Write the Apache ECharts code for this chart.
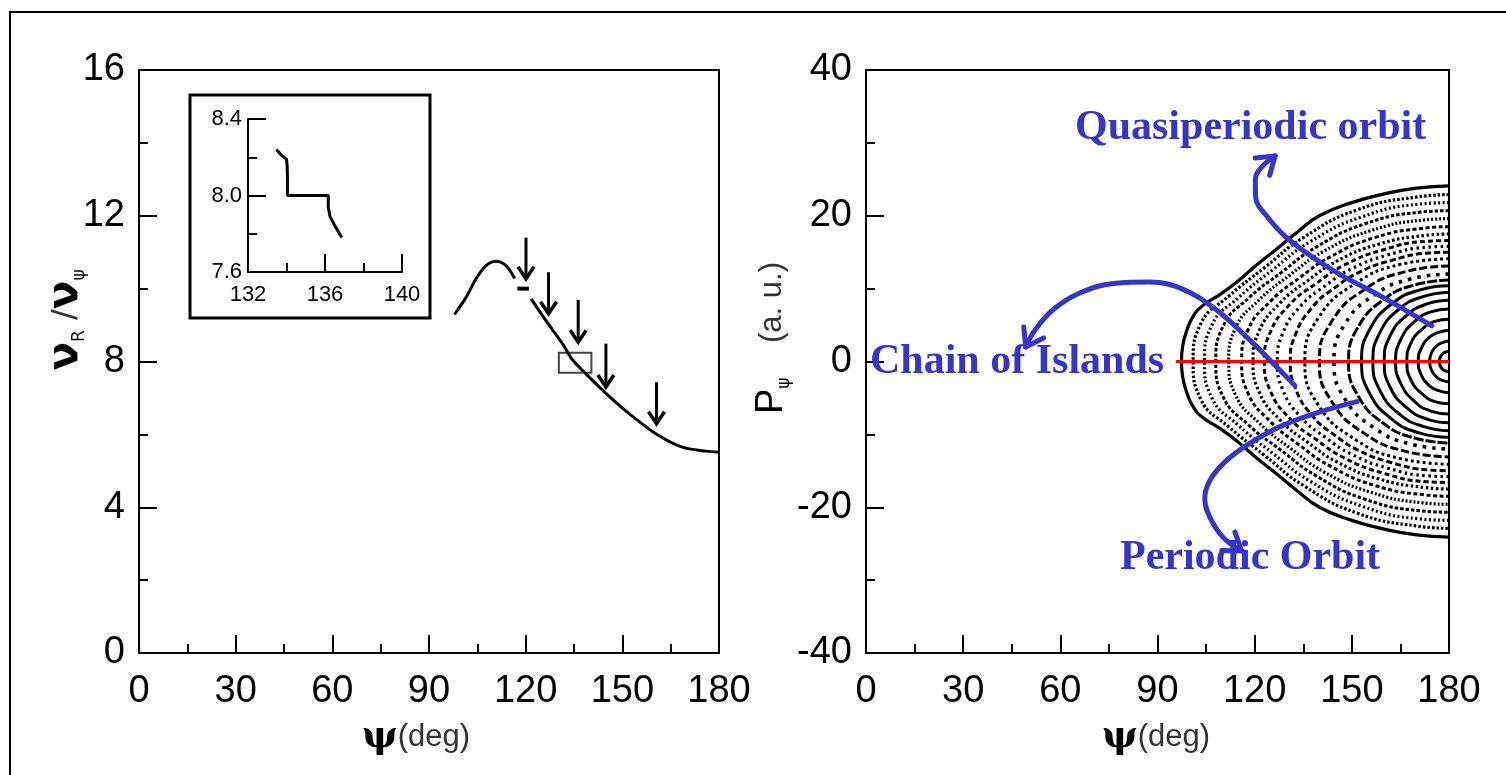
<!DOCTYPE html>
<html>
<head>
<meta charset="utf-8">
<script src="https://cdn.jsdelivr.net/npm/echarts@6/dist/echarts.min.js"></script>
<style>
  html, body { margin: 0; padding: 0; background: #fff; }
  #chart { width: 1506px; height: 775px; }
</style>
</head>
<body>
<div id="chart"></div>
<script>
// ---- left panel: frequency ratio vs psi ----
const ratioRise = [[97.9, 9.29], [101.5, 9.76], [104.6, 10.27], [107.7, 10.63], [110.8, 10.75], [113.9, 10.63], [116.6, 10.28]]
const ratioPlateau = [[117.4, 10.0], [121.0, 10.0]]
const ratioFall = [[121.7, 9.72], [126.3, 9.12], [131.5, 8.48], [134.5, 8.05], [138.7, 7.66], [145, 7.12], [152.1, 6.57], [160.4, 6.02], [168.6, 5.65], [175.9, 5.54], [180, 5.51]]
// resonance arrows: psi, start, tip
const arrowPsi = [120.1, 127.1, 136.3, 144.9, 160.6]
const arrowTop = [11.4, 10.45, 9.69, 8.49, 7.43]
const arrowTip = [10.27, 9.31, 8.53, 7.3, 6.29]
const zoomBox = [130.3, 7.69, 140.4, 8.24]
// inset
const insetPsi = [133.48, 133.74, 134.0, 134.03, 134.05, 134.05, 136.17, 136.17, 136.26, 136.52, 136.87]
const insetRatio = [8.24, 8.21, 8.19, 8.16, 8.1, 8.0, 8.0, 7.94, 7.89, 7.84, 7.78]

// ---- right panel: Poincare section, upper halves of the orbits (outer -> inner) ----
const orbits = [
  [[97.4, 0], [97.8, 2.2], [99, 4.2], [101, 6.2], [104, 7.7], [109, 9.1], [114.5, 10.9], [120.5, 13.2], [127, 15.5], [133, 17.7], [140, 20], [150, 21.8], [160, 23], [170, 23.8], [180, 24.1]],
  [[101, 0], [103.4, 5.2], [112.1, 9.0], [123.1, 12.9], [135.0, 17.0], [151.6, 20.8], [170.5, 22.6], [180, 22.9]],
  [[104.5, 0], [106.8, 5.0], [115.1, 8.8], [125.6, 12.6], [137.0, 16.4], [152.8, 19.8], [170.9, 21.6], [180, 21.8]],
  [[108, 0], [110.2, 4.8], [118.1, 8.7], [128.2, 12.2], [139.0, 15.7], [154.1, 18.9], [171.4, 20.5], [180, 20.7]],
  [[112, 0], [114.0, 4.5], [121.5, 8.5], [131.0, 11.9], [141.2, 15.1], [155.5, 17.9], [171.8, 19.4], [180, 19.6]],
  [[116, 0], [117.9, 4.3], [125.0, 8.3], [133.9, 11.5], [143.5, 14.4], [157.0, 17.0], [172.3, 18.3], [180, 18.5]],
  [[119.5, 0], [121.3, 4.1], [128.0, 8.1], [136.4, 11.1], [145.5, 13.8], [158.2, 16.1], [172.7, 17.3], [180, 17.5]],
  [[123, 0], [124.7, 3.9], [131.0, 7.9], [139.0, 10.7], [147.5, 13.2], [159.5, 15.3], [173.2, 16.5], [180, 16.6]],
  [[127, 0], [128.6, 3.8], [134.4, 7.7], [141.8, 10.4], [149.8, 12.7], [160.9, 14.6], [173.6, 15.7], [180, 15.8]],
  [[131, 0], [132.5, 3.6], [137.9, 7.5], [144.7, 10.1], [152.1, 12.2], [162.4, 13.9], [174.1, 14.9], [180, 15.0]],
  [[135.5, 0], [139.7, 6.0], [151.4, 10.8], [164.8, 13.3], [180, 14.1]],
  [[140, 0], [143.8, 5.5], [154.3, 10.0], [166.3, 12.3], [180, 13.1]],
  [[144.5, 0], [147.8, 5.1], [157.2, 9.2], [167.9, 11.3], [180, 12.0]],
  [[149, 0], [151.9, 4.7], [160.1, 8.6], [169.4, 10.5], [180, 11.2]],
  [[153, 0], [155.5, 4.4], [162.6, 8.0], [170.8, 9.8], [180, 10.4]],
  [[156.5, 0], [158.7, 4.0], [164.9, 7.3], [172.0, 8.9], [180, 9.5]],
  [[160, 0], [161.9, 3.6], [167.1, 6.4], [173.2, 7.9], [180, 8.4]],
  [[163.5, 0], [165.1, 3.0], [169.4, 5.5], [174.4, 6.8], [180, 7.2]],
  [[167, 0], [168.2, 2.5], [171.6, 4.4], [175.6, 5.5], [180, 5.8]],
  [[170.5, 0], [171.4, 1.8], [173.9, 3.3], [176.8, 4.0], [180, 4.3]],
  [[174, 0], [174.6, 1.2], [176.1, 2.1], [178, 2.6], [180, 2.8]],
  [[177, 0], [177.3, 0.6], [178.1, 1.1], [179, 1.3], [180, 1.4]]
]
const separatrix = [[95.7, 0], [180, 0]]
const quasiArrow = [[174.7, 4.9], [159.6, 8.8], [144.2, 12.5], [130.9, 16.6], [124.2, 19.7], [120.3, 22.6], [120.2, 25.0], [122.0, 26.6], [126.3, 28.2]]
const chainArrow = [[132.4, -3.3], [126.9, -0.8], [118.6, 2.9], [108.4, 7.0], [97.9, 9.9], [87.7, 10.9], [76.5, 10.7], [66.0, 9.4], [58.0, 7.2], [52.3, 4.4], [49.3, 2.0]]
const periodicArrow = [[151.6, -5.5], [140.2, -6.9], [128.5, -8.8], [118.6, -11.2], [111.0, -13.7], [106.2, -16.3], [104.6, -18.8], [106.3, -21.5], [110.4, -24.2], [116.0, -26.0]]

// dash pattern per orbit (outer -> inner), null = solid
const orbitDash = [null, [2.5, 2], [2, 2.5], [3.5, 2], [2, 2], [4, 2.5], [2.5, 2.5], [5, 3], [2.5, 3.5], [6, 3], [3, 3], [8, 3], [3.5, 6], [10, 2], null, null, null, null, null, null, null, null]
const orbitWidth = [3.2, 3.2, 3.2, 3, 3.2, 3, 3.2, 3, 3.2, 3, 3, 3, 3.6, 3, 3, 3, 3, 3, 3, 3, 3, 3]

const BLUE = '#3535c9'
const chart = echarts.init(document.getElementById('chart'))

function mainAxis(extra) {
  return Object.assign({
    type: 'value',
    axisLine: { show: true, onZero: false, lineStyle: { color: '#000', width: 2 } },
    axisTick: { show: true, inside: true, length: 18, lineStyle: { color: '#000', width: 2 } },
    minorTick: { show: true, splitNumber: 2, length: 9, lineStyle: { color: '#000', width: 2 } },
    splitLine: { show: false },
    minorSplitLine: { show: false },
    axisLabel: { color: '#000', fontSize: 38, fontFamily: 'Liberation Sans', margin: 14 }
  }, extra)
}

// closed orbit: top at psi=180 -> left tip -> bottom at psi=180
function closeOrbit(upper) {
  return upper.slice().reverse().concat(upper.slice(1).map(p => [p[0], -p[1]]))
}

const orbitSeries = orbits.map((upper, i) => ({
  type: 'line',
  xAxisIndex: 1,
  yAxisIndex: 1,
  data: closeOrbit(upper),
  smooth: true,
  showSymbol: false,
  silent: true,
  z: 2,
  lineStyle: { color: '#000', width: orbitWidth[i], type: orbitDash[i] || 'solid' }
}))

const blueShaft = arr => ({
  type: 'line',
  xAxisIndex: 1,
  yAxisIndex: 1,
  data: arr,
  smooth: 0.4,
  showSymbol: false,
  silent: true,
  z: 6,
  lineStyle: { color: BLUE, width: 5, cap: 'round' }
})

const headData = [quasiArrow, chainArrow, periodicArrow].map(a => {
  const t = a[a.length - 1], p = a[a.length - 2]
  return [t[0], t[1], p[0], p[1]]
})

const bigLabel = { color: '#000', fontSize: 38, fontFamily: 'Liberation Sans', margin: 20 }

chart.setOption({
  animation: false,
  backgroundColor: '#fff',
  grid: [
    { left: 139, top: 70, width: 580, height: 583, show: true, borderColor: '#000', borderWidth: 2, outerBoundsMode: 'none' },
    { left: 866, top: 70, width: 583, height: 583, show: true, borderColor: '#000', borderWidth: 2, outerBoundsMode: 'none' },
    { left: 248, top: 119, width: 154, height: 153, outerBoundsMode: 'none' }
  ],
  xAxis: [
    mainAxis({ gridIndex: 0, min: 0, max: 180, interval: 30, axisLabel: bigLabel }),
    mainAxis({ gridIndex: 1, min: 0, max: 180, interval: 30, axisLabel: bigLabel }),
    mainAxis({
      gridIndex: 2, min: 132, max: 140, interval: 4,
      axisLabel: { color: '#000', fontSize: 22, fontFamily: 'Liberation Sans', margin: 12 }
    })
  ],
  yAxis: [
    mainAxis({ gridIndex: 0, min: 0, max: 16, interval: 4 }),
    mainAxis({ gridIndex: 1, min: -40, max: 40, interval: 20 }),
    mainAxis({
      gridIndex: 2, min: 7.6, max: 8.4, interval: 0.4,
      axisLabel: { color: '#000', fontSize: 22, fontFamily: 'Liberation Sans', margin: 6, formatter: v => v.toFixed(1) }
    })
  ],
  graphic: [
    { type: 'rect', shape: { x: 10, y: 12, width: 1600, height: 900 }, style: { stroke: '#000', lineWidth: 2, fill: 'none' }, silent: true },
    { type: 'rect', shape: { x: 190, y: 95, width: 240, height: 223 }, style: { stroke: '#000', lineWidth: 3, fill: 'none' }, silent: true },
    {
      type: 'text', x: 66, y: 320, rotation: Math.PI / 2,
      style: {
        text: '{n|ν}{s|R}{sl| /}{n|ν}{s|ψ}', align: 'center', verticalAlign: 'middle',
        rich: {
          n: { fontSize: 42, fontFamily: 'DejaVu Sans', fontWeight: 'bold', fill: '#000', lineHeight: 44 },
          s: { fontSize: 17, fontFamily: 'DejaVu Sans', fill: '#000', lineHeight: 17, verticalAlign: 'bottom' },
          sl: { fontSize: 32, fontFamily: 'DejaVu Sans', fill: '#333', lineHeight: 44 }
        }
      }
    },
    {
      type: 'text', x: 772, y: 338, rotation: Math.PI / 2,
      style: {
        text: '{p|P}{s|ψ}{d|    (a. u.)}', align: 'center', verticalAlign: 'middle',
        rich: {
          p: { fontSize: 38, fontFamily: 'Liberation Sans', fill: '#000', lineHeight: 42 },
          s: { fontSize: 17, fontFamily: 'DejaVu Sans', fill: '#000', lineHeight: 17, verticalAlign: 'bottom' },
          d: { fontSize: 31, fontFamily: 'Liberation Sans', fill: '#333', lineHeight: 42 }
        }
      }
    },
    {
      type: 'text', x: 416, y: 737,
      style: {
        text: '{p|ψ}{d|(deg)}', align: 'center', verticalAlign: 'middle',
        rich: {
          p: { fontSize: 38, fontFamily: 'DejaVu Serif', fontWeight: 'bold', fill: '#000' },
          d: { fontSize: 31, fontFamily: 'Liberation Sans', fill: '#333' }
        }
      }
    },
    {
      type: 'text', x: 1156, y: 737,
      style: {
        text: '{p|ψ}{d|(deg)}', align: 'center', verticalAlign: 'middle',
        rich: {
          p: { fontSize: 38, fontFamily: 'DejaVu Serif', fontWeight: 'bold', fill: '#000' },
          d: { fontSize: 31, fontFamily: 'Liberation Sans', fill: '#333' }
        }
      }
    },
    { type: 'text', x: 1075, y: 128, z: 100, style: { text: 'Quasiperiodic orbit', font: 'bold 42px "Liberation Serif"', fill: BLUE, verticalAlign: 'middle' } },
    { type: 'text', x: 870, y: 362, z: 100, style: { text: 'Chain of Islands', font: 'bold 42px "Liberation Serif"', fill: BLUE, verticalAlign: 'middle' } },
    { type: 'text', x: 1120, y: 558, z: 100, style: { text: 'Periodic Orbit', font: 'bold 42px "Liberation Serif"', fill: BLUE, verticalAlign: 'middle' } }
  ],
  series: [
    { type: 'line', data: ratioRise, smooth: 0.3, showSymbol: false, lineStyle: { color: '#000', width: 3 } },
    { type: 'line', data: ratioPlateau, showSymbol: false, lineStyle: { color: '#000', width: 4 } },
    { type: 'line', data: ratioFall, smooth: 0.3, showSymbol: false, lineStyle: { color: '#000', width: 3 } },
    {
      type: 'custom',
      data: arrowPsi.map((x, i) => [x, arrowTop[i], arrowTip[i]]),
      encode: { x: 0, y: [1, 2] },
      renderItem: (params, api) => {
        const x = api.value(0)
        const top = api.coord([x, api.value(1)])
        const tip = api.coord([x, api.value(2)])
        return {
          type: 'group',
          children: [
            { type: 'line', shape: { x1: top[0], y1: top[1], x2: tip[0], y2: tip[1] }, style: { stroke: '#000', lineWidth: 3 } },
            { type: 'polyline', shape: { points: [[tip[0] - 8, tip[1] - 12], tip, [tip[0] + 8, tip[1] - 12]] }, style: { stroke: '#000', lineWidth: 3.5, fill: 'none' } }
          ]
        }
      }
    },
    {
      type: 'custom',
      data: [zoomBox],
      encode: { x: [0, 2], y: [1, 3] },
      renderItem: (params, api) => {
        const a = api.coord([api.value(0), api.value(3)])
        const b = api.coord([api.value(2), api.value(1)])
        return { type: 'rect', shape: { x: a[0], y: a[1], width: b[0] - a[0], height: b[1] - a[1] }, style: { stroke: '#444', lineWidth: 2, fill: 'none' } }
      }
    },
    {
      type: 'line', xAxisIndex: 2, yAxisIndex: 2,
      data: insetPsi.map((x, i) => [x, insetRatio[i]]),
      showSymbol: false, lineStyle: { color: '#000', width: 3 }
    },
    ...orbitSeries,
    {
      type: 'line', xAxisIndex: 1, yAxisIndex: 1, data: separatrix, showSymbol: false, silent: true, z: 5,
      lineStyle: { color: '#ff0000', width: 3 }
    },
    blueShaft(quasiArrow),
    blueShaft(chainArrow),
    blueShaft(periodicArrow),
    {
      type: 'custom', xAxisIndex: 1, yAxisIndex: 1, z: 7,
      data: headData,
      encode: { x: [0, 2], y: [1, 3] },
      renderItem: (params, api) => {
        const t = api.coord([api.value(0), api.value(1)])
        const p = api.coord([api.value(2), api.value(3)])
        const ang = Math.atan2(t[1] - p[1], t[0] - p[0])
        const L = 20
        const w1 = [t[0] + L * Math.cos(ang + Math.PI - 0.6), t[1] + L * Math.sin(ang + Math.PI - 0.6)]
        const w2 = [t[0] + L * Math.cos(ang + Math.PI + 0.6), t[1] + L * Math.sin(ang + Math.PI + 0.6)]
        return { type: 'polyline', shape: { points: [w1, t, w2] }, style: { stroke: BLUE, lineWidth: 5, fill: 'none', lineCap: 'round', lineJoin: 'round' } }
      }
    }
  ]
})
</script>
</body>
</html>
